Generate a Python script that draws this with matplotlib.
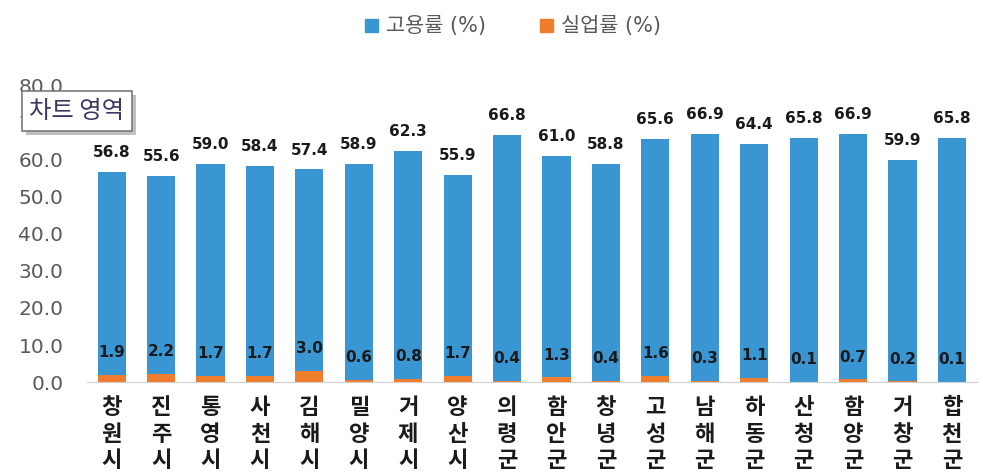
import numpy as np
import matplotlib.pyplot as plt
import matplotlib.patheffects as pe
from matplotlib.patches import Patch

plt.rcParams['font.family'] = ['Noto Sans CJK KR', 'DejaVu Sans']

# 시군별 고용률 / 실업률
regions = ['창원시', '진주시', '통영시', '사천시', '김해시', '밀양시', '거제시', '양산시',
           '의령군', '함안군', '창녕군', '고성군', '남해군', '하동군', '산청군', '함양군',
           '거창군', '합천군']
employment = [56.8, 55.6, 59.0, 58.4, 57.4, 58.9, 62.3, 55.9,
              66.8, 61.0, 58.8, 65.6, 66.9, 64.4, 65.8, 66.9, 59.9, 65.8]
unemployment = [1.9, 2.2, 1.7, 1.7, 3.0, 0.6, 0.8, 1.7,
                0.4, 1.3, 0.4, 1.6, 0.3, 1.1, 0.1, 0.7, 0.2, 0.1]
yticks = [0, 10, 20, 30, 40, 50, 60, 70, 80]

blue = '#3A96D3'
orange = '#F07C2E'

fig = plt.figure(figsize=(9.83, 4.74), dpi=100)
ax = fig.add_axes([0.0885, 0.194, 0.905, 0.625])

x = np.arange(len(regions))
w = 0.57
ax.bar(x, employment, width=w, color=blue, zorder=2)
ax.bar(x, unemployment, width=w, color=orange, zorder=3)

for xi, v in zip(x, employment):
    ax.annotate(f'{v:.1f}', (xi, v), xytext=(0, 14), textcoords='offset points',
                ha='center', va='center', fontsize=11, fontweight='bold',
                color='#1a1a1a', family='DejaVu Sans')
for xi, v in zip(x, unemployment):
    ax.annotate(f'{v:.1f}', (xi, v), xytext=(0, 16), textcoords='offset points',
                ha='center', va='center', fontsize=11, fontweight='bold',
                color='#1a1a1a', family='DejaVu Sans', zorder=4)

ax.set_xlim(-0.5, len(regions) - 0.5)
ax.set_ylim(0, 80)
ax.set_yticks(yticks)
ax.set_yticklabels([f'{t:.1f}' for t in yticks], fontsize=14.5, color='#595959',
                   family='DejaVu Sans')
ax.set_xticks(x)
ax.set_xticklabels(['\n'.join(r) for r in regions], fontsize=16, fontweight='bold',
                   color='#1a1a1a', linespacing=1.2)
ax.tick_params(axis='both', length=0)
ax.tick_params(axis='x', pad=10)
ax.tick_params(axis='y', pad=17)
for s in ['top', 'right', 'left']:
    ax.spines[s].set_visible(False)
ax.spines['bottom'].set_color('#d0d0d0')

handles = [Patch(color=blue, label='고용률 (%)'), Patch(color=orange, label='실업률 (%)')]
fig.legend(handles=handles, loc='upper center', bbox_to_anchor=(0.522, 1.005), ncol=2,
           frameon=False, prop={'family': ['DejaVu Sans', 'Noto Sans CJK KR'], 'size': 15},
           labelcolor='#595959', handlelength=0.6, handleheight=0.6,
           handletextpad=0.4, columnspacing=2.6)

# 차트 영역 툴팁
tip = fig.text(0.030, 0.766, '차트 영역', fontsize=17.5, color='#3a3a60',
               va='center', ha='left', zorder=10,
               bbox=dict(boxstyle='square,pad=0.3', facecolor='white', edgecolor='#7a7a7a',
                         linewidth=1.2))
tip.get_bbox_patch().set_path_effects([pe.withSimplePatchShadow(offset=(3, -3),
                                                                shadow_rgbFace='#b0b0b0',
                                                                alpha=0.8)])

fig.savefig('out.png', dpi=100)
